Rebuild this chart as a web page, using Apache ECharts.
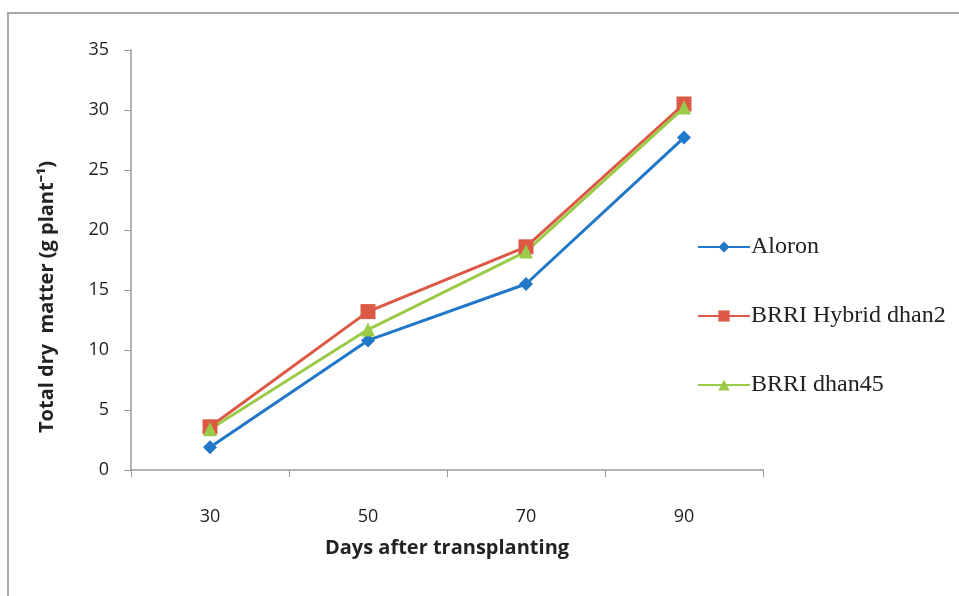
<!DOCTYPE html>
<html>
<head>
<meta charset="utf-8">
<script src="https://cdn.jsdelivr.net/npm/echarts@6/dist/echarts.min.js"></script>
<style>
  html, body { margin: 0; padding: 0; background: #fff; }
  #frame { position: absolute; left: 7px; top: 12px; width: 960px; height: 590px; border-left: 2px solid #a8a8a8; border-top: 2px solid #a8a8a8; box-sizing: border-box; }
  #chart { width: 959px; height: 596px; }
</style>
</head>
<body>
<div id="frame"></div>
<div id="chart"></div>
<script>
const days = ['30', '50', '70', '90'];
const aloron = [1.9, 10.8, 15.5, 27.7];
const hybrid = [3.6, 13.2, 18.6, 30.5];
const dhan45 = [3.4, 11.7, 18.2, 30.2];

const chart = echarts.init(document.getElementById('chart'), null, { renderer: 'canvas' });

const axisGray = '#9a9a9a';
const labelFont = { color: '#222', fontSize: 18, fontFamily: 'Open Sans' };
const titleFont = { fontFamily: 'Open Sans', fontWeight: 'bold', fontSize: 20, color: '#222' };

chart.setOption({
  animation: false,
  color: ['#2178c9', '#dc5a45', '#9acb48'],
  grid: { left: 131, top: 50, right: 196, bottom: 126 },
  legend: {
    orient: 'vertical',
    left: 692,
    top: 230,
    itemGap: 45,
    itemWidth: 52,
    itemHeight: 14,
    textStyle: { fontFamily: 'Liberation Serif', fontSize: 24, color: '#222', padding: [0, 0, 0, -4] }
  },
  xAxis: {
    type: 'category',
    data: days,
    name: 'Days after transplanting',
    nameLocation: 'middle',
    nameGap: 68,
    nameTextStyle: titleFont,
    axisLine: { lineStyle: { color: axisGray, width: 1.5 } },
    axisTick: { show: true, length: 7, lineStyle: { color: axisGray } },
    axisLabel: Object.assign({ margin: 38 }, labelFont)
  },
  yAxis: {
    type: 'value',
    min: 0,
    max: 35,
    interval: 5,
    name: 'Total dry  matter (g plant\u207B\u00B9)',
    nameLocation: 'middle',
    nameGap: 74,
    nameTextStyle: Object.assign({ padding: [0, 74, 0, 0] }, titleFont),
    splitLine: { show: false },
    axisLine: { show: true, lineStyle: { color: axisGray, width: 1.5 } },
    axisTick: { show: true, length: 7, lineStyle: { color: axisGray } },
    axisLabel: Object.assign({ margin: 22 }, labelFont)
  },
  series: [
    { name: 'Aloron', type: 'line', data: aloron, symbol: 'diamond', symbolSize: 14, lineStyle: { width: 3 } },
    { name: 'BRRI Hybrid dhan2', type: 'line', data: hybrid, symbol: 'rect', symbolSize: 15, lineStyle: { width: 3 } },
    { name: 'BRRI dhan45', type: 'line', data: dhan45, symbol: 'triangle', symbolSize: 14, lineStyle: { width: 3 } }
  ]
});
</script>
</body>
</html>
